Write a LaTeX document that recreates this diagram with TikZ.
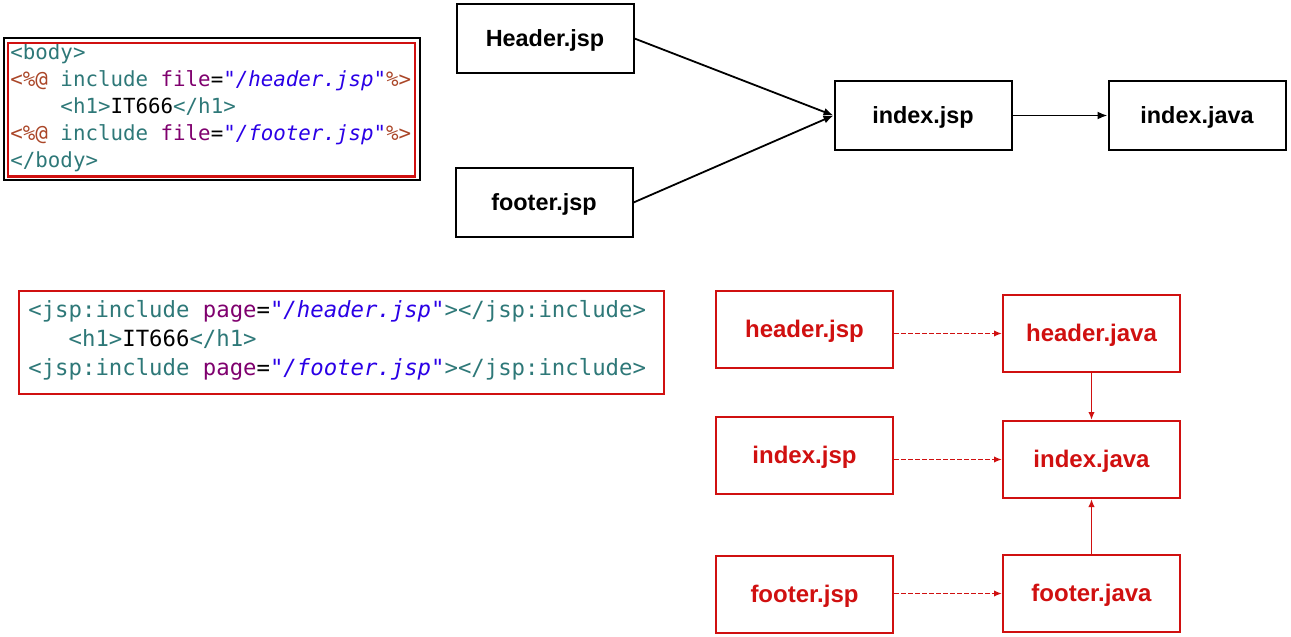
\documentclass[tikz,border=0pt]{standalone}
\usepackage{fontspec}
\setmainfont{Liberation Sans}
\setmonofont{DejaVu Sans Mono}
\usetikzlibrary{positioning,arrows.meta}

\definecolor{tagc}{RGB}{46,120,120}
\definecolor{attrc}{RGB}{127,0,110}
\definecolor{strc}{RGB}{42,0,230}
\definecolor{dirc}{RGB}{170,70,40}
\definecolor{jspred}{RGB}{208,16,16}

\newcommand{\ctag}[1]{\textcolor{tagc}{#1}}
\newcommand{\cattr}[1]{\textcolor{attrc}{#1}}
\newcommand{\cstr}[1]{\textcolor{strc}{\itshape #1}}
\newcommand{\cdir}[1]{\textcolor{dirc}{#1}}
\newcommand{\csp}{\phantom{x}}

\begin{document}
\begin{tikzpicture}[x=0.5pt,y=-0.5pt,
    flowbox/.style={rectangle, draw=black, line width=1pt, inner sep=0pt,
        minimum width=88.5pt, minimum height=34.5pt, text height=10.5pt, text depth=2.4pt,
        font=\bfseries\fontsize{11.7}{13}\selectfont},
    redbox/.style={rectangle, draw=jspred, text=jspred, line width=1pt, inner sep=0pt,
        minimum width=88.5pt, minimum height=38.5pt, text height=10.5pt, text depth=2.4pt,
        font=\bfseries\fontsize{12}{13}\selectfont},
    codebox/.style={rectangle, anchor=north west, align=left, inner ysep=0pt},
    redarrow/.style={jspred, line width=0.9pt, -{Latex[length=4pt,width=3.2pt]}}]
    \useasboundingbox (0,0) rectangle (1291,637);

    % static include
    \node[codebox, inner xsep=1pt, text width=202pt,
        font=\ttfamily\fontsize{10.4}{13.5}\selectfont] (code1) at (8,43.5) {%
        \ctag{<body>}\\
        \cdir{<\%@}\csp\ctag{include}\csp\cattr{file}=\cstr{"/header.jsp"}\cdir{\%>}\\
        \csp\csp\csp\csp\ctag{<h1>}IT666\ctag{</h1>}\\
        \cdir{<\%@}\csp\ctag{include}\csp\cattr{file}=\cstr{"/footer.jsp"}\cdir{\%>}\\
        \ctag{</body>}};
    \draw[jspred, line width=1.2pt] ([yshift=0.25pt]code1.north west) rectangle ([shift={(-1pt,-2pt)}]code1.south east);
    \draw[line width=1pt] ([shift={(-2pt,2.75pt)}]code1.north west) rectangle ([shift={(1.5pt,-4pt)}]code1.south east);

    \node[flowbox] (hdr) at (545,38.5) {Header.jsp};
    \node[flowbox] (ftr) at (544,202.5) {footer.jsp};
    \node[flowbox] (idx) at (923,115.5) {index.jsp};
    \node[flowbox] (idxj) [right=47.5pt of idx] {index.java};

    \draw[-{Latex[length=5pt,width=4pt]}, line width=0.9pt] (hdr.east) -- (idx.west);
    \draw[-{Latex[length=5pt,width=4pt]}, line width=0.9pt] (ftr.east) -- (idx.west);
    \draw[-{Latex[length=5pt,width=4pt]}, line width=0.9pt] (idx.east) -- (idxj.west);

    % dynamic include
    \node[codebox, inner xsep=4.5pt, text width=313pt,
        font=\ttfamily\fontsize{11.15}{14.5}\selectfont] (code2) at (19,300) {%
        \ctag{<jsp:include}\csp\cattr{page}=\cstr{"/header.jsp"}\ctag{></jsp:include>}\\
        \csp\csp\csp\ctag{<h1>}IT666\ctag{</h1>}\\
        \ctag{<jsp:include}\csp\cattr{page}=\cstr{"/footer.jsp"}\ctag{></jsp:include>}};
    \draw[jspred, line width=1pt] ([yshift=4.5pt]code2.north west) rectangle ([yshift=-6.5pt]code2.south east);

    \node[redbox] (hjsp) at (804.5,329.5) {header.jsp};
    \node[redbox] (ijsp) at (804.5,455.5) {index.jsp};
    \node[redbox] (fjsp) at (804.5,594.5) {footer.jsp};
    \node[redbox] (hjava) at (1091.5,333.5) {header.java};
    \node[redbox] (ijava) at (1091.5,459.5) {index.java};
    \node[redbox] (fjava) at (1091.5,593.5) {footer.java};

    \draw[redarrow, dash pattern=on 2.5pt off 1pt] (hjsp.east |- hjava.west) -- (hjava.west);
    \draw[redarrow, dash pattern=on 2.5pt off 1pt] (ijsp.east |- ijava.west) -- (ijava.west);
    \draw[redarrow, dash pattern=on 2.5pt off 1pt] (fjsp.east |- fjava.west) -- (fjava.west);
    \draw[redarrow] (hjava.south) -- (ijava.north);
    \draw[redarrow] (fjava.north) -- (ijava.south);
\end{tikzpicture}
\end{document}
